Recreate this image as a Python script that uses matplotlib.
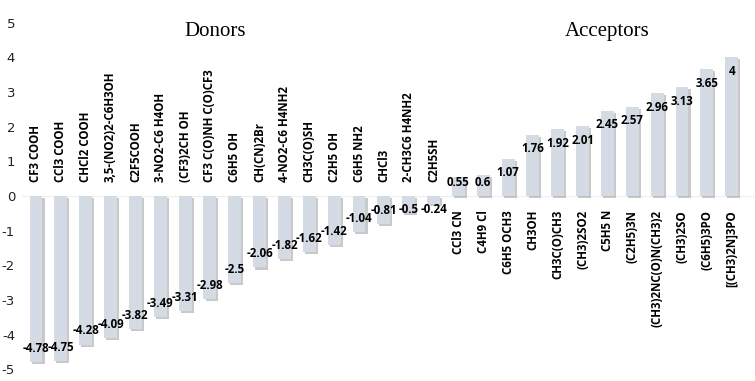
import matplotlib
matplotlib.use("Agg")
import matplotlib.pyplot as plt
import matplotlib.patheffects as pe
import numpy as np

plt.rcParams['axes.unicode_minus'] = False

donors = ['CF3 COOH', 'CCl3 COOH', 'CHCl2 COOH', '3,5-(NO2)2-C6H3OH', 'C2F5COOH',
          '3-NO2-C6 H4OH', '(CF3)2CH OH', 'CF3 C(O)NH C(O)CF3', 'C6H5 OH', 'CH(CN)2Br',
          '4-NO2-C6 H4NH2', 'CH3C(O)SH', 'C2H5 OH', 'C6H5 NH2', 'CHCl3',
          '2-CH3C6 H4NH2', 'C2H5SH']
donor_values = [-4.78, -4.75, -4.28, -4.09, -3.82, -3.49, -3.31, -2.98, -2.5, -2.06,
                -1.82, -1.62, -1.42, -1.04, -0.81, -0.5, -0.24]

acceptors = ['CCl3 CN', 'C4H9 Cl', 'C6H5 OCH3', 'CH3OH', 'CH3C(O)CH3', '(CH3)2SO2',
             'C5H5 N', '(C2H5)3N', '(CH3)2NC(O)N(CH3)2', '(CH3)2SO', '(C6H5)3PO',
             '[(CH3)2N]3PO']
acceptor_values = [0.55, 0.6, 1.07, 1.76, 1.92, 2.01, 2.45, 2.57, 2.96, 3.13, 3.65, 4]

names = donors + acceptors
values = donor_values + acceptor_values
x = np.arange(len(values))

W, H = 755, 381
fig = plt.figure(figsize=(W / 100, H / 100), dpi=100)
ax = fig.add_axes([22 / W, 0, 733 / W, 1])

bar_color = '#d5dbe4'
shadow = [pe.SimplePatchShadow(offset=(1.5, -1.5), shadow_rgbFace='#888888', alpha=0.45),
          pe.Normal()]
bars = ax.bar(x, values, width=0.52, color=bar_color, edgecolor='none', zorder=2)
for b in bars:
    b.set_path_effects(shadow)

ax.axhline(0, color='#eeeeee', lw=0.8, zorder=1)

lab_font = dict(family=['Open Sans', 'DejaVu Sans'], fontweight='bold', fontsize=8.3)
for xi, name, v in zip(x, names, values):
    if v < 0:
        ax.text(xi, 0.4, name, rotation=90, ha='center', va='bottom', **lab_font)
        ax.text(xi, min(v + 0.39, -0.4), str(v), ha='center', va='center', zorder=3, **lab_font)
    else:
        ax.text(xi, -0.4, name, rotation=90, ha='center', va='top', **lab_font)
        ax.text(xi, max(v - 0.4, 0.38), f"{v:g}", ha='center', va='center', zorder=3, **lab_font)

ax.text(7.2, 4.74, 'Donors', family='Liberation Serif', fontsize=15, ha='center', va='center')
ax.text(23.0, 4.74, 'Acceptors', family='Liberation Serif', fontsize=15, ha='center', va='center')

px = 34.7
ax.set_ylim(-(H - 196) / px, 196 / px)
ax.set_xlim(-(36 - 22) / 24.85, 28 + (W - 731.7) / 24.85)
ax.set_yticks(range(-5, 6))
ax.tick_params(axis='y', length=0, pad=5, labelsize=9.5, labelcolor='#222222')
ax.tick_params(axis='x', bottom=False, labelbottom=False)
for s in ax.spines.values():
    s.set_visible(False)

fig.savefig('out.png', dpi=100)
